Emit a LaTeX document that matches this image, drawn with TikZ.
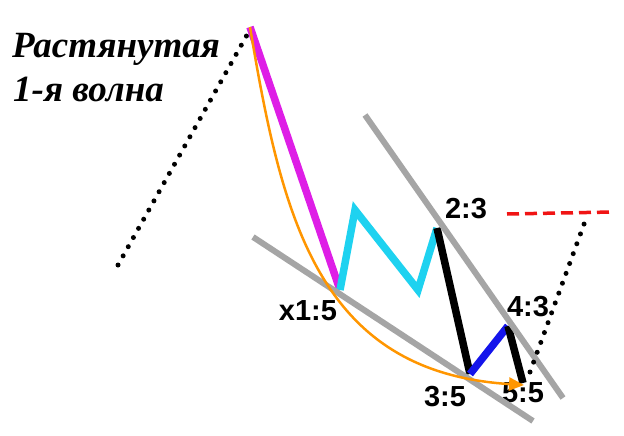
\documentclass[tikz,border=0pt]{standalone}
\usepackage{fontspec}
\setmainfont{Liberation Sans}
\newfontfamily\titlefont{Liberation Serif}
\usetikzlibrary{arrows.meta}
\definecolor{wmag}{RGB}{222,30,230}
\definecolor{wcyan}{RGB}{30,210,240}
\definecolor{wblue}{RGB}{20,20,235}
\definecolor{wgray}{RGB}{165,165,165}
\definecolor{worange}{RGB}{255,150,0}
\definecolor{wred}{RGB}{240,20,20}
\tikzset{
  wave/.style={line width=7.5pt, line join=miter},
  chan/.style={wgray, line width=6pt},
  dots/.style={line width=5pt, line cap=round, dash pattern=on 0pt off 10.5pt},
  lbl/.style={font=\fontsize{29}{29}\selectfont\bfseries, inner sep=0pt},
  ttl/.style={font=\titlefont\fontsize{37}{37}\selectfont\bfseries\itshape, inner sep=0pt, anchor=base west}
}
\begin{document}
\begin{tikzpicture}[x=1pt,y=-1pt]
\useasboundingbox[fill=white] (0,0) rectangle (624,436);
% key points
\coordinate (A) at (250,27);
\coordinate (X) at (340,290);
\coordinate (C1) at (355,210);
\coordinate (C2) at (418,290);
\coordinate (W2) at (437,228);
\coordinate (W3) at (470,374);
\coordinate (W4) at (508,326);
\coordinate (W5) at (523,383);
\coordinate (G1a) at (365,115);
\coordinate (G1b) at (563,398);
\coordinate (G2a) at (253,237);
\coordinate (G2b) at (533,421);
\coordinate (L0) at (118,265);
\coordinate (L1) at (247,35);
\coordinate (R0) at (530,372);
\coordinate (R1) at (587,216);
\coordinate (D0) at (507,214);
\coordinate (D1) at (613,212);
\coordinate (OE) at (524,385);
% labels
\node[lbl] (l23) at (466,209) {2:3};
\node[lbl] (l43) at (528,307) {4:3};
\node[lbl] (l55) at (523,393) {5:5};
\node[lbl] (l35) at (445,397) {3:5};
\node[lbl] (lx15) at (308,311) {x1:5};
% waves
\draw[wave, wmag] (A) -- (X);
\draw[wave, wcyan] (X) -- (C1) -- (C2) -- (W2);
\draw[wave, black] (W2) -- (W3);
\draw[wave, wblue] (W3) -- (W4);
\draw[wave, black] (W4) -- (W5);
% channel
\draw[chan] (G1a) -- (G1b);
\draw[chan] (G2a) -- (G2b);
% orange curve
\draw[worange, line width=2.5pt, -{Triangle[length=15pt,width=13pt]}] (A) .. controls (282,218) and (318,372) .. (OE);
% dotted
\draw[dots] (L0) -- (L1);
\draw[dots] (R0) -- (R1);
\draw[wred, line width=3.5pt, dash pattern=on 12pt off 6pt] (D0) -- (D1);
% title
\node[ttl] (t1) at (12,58) {Растянутая};
\node[ttl] (t2) at (13,101) {1-я волна};
\end{tikzpicture}
\end{document}
